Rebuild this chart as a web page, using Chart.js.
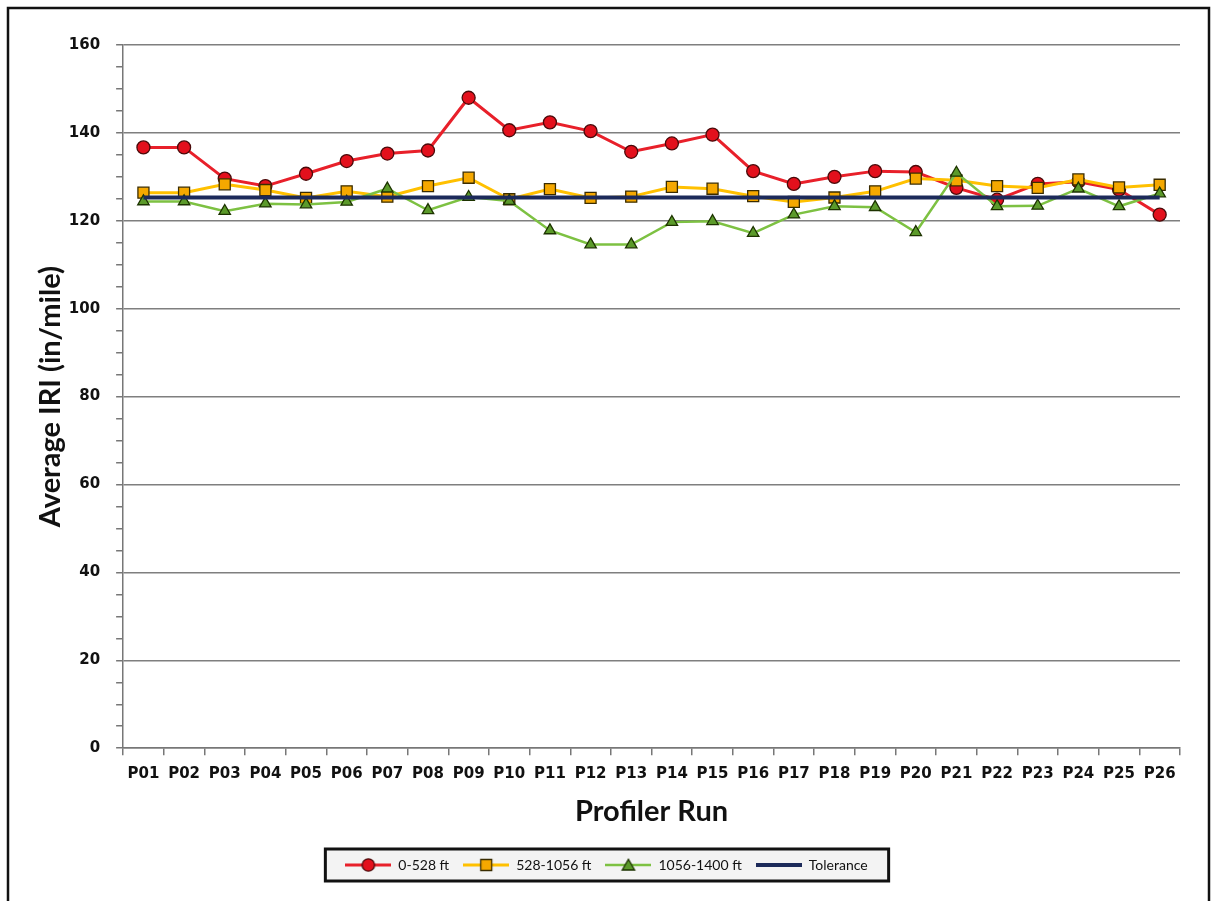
<!DOCTYPE html>
<html>
<head>
<meta charset="utf-8">
<title>Average IRI by Profiler Run</title>
<script src="https://cdn.jsdelivr.net/npm/chart.js@4.4.1/dist/chart.umd.min.js"></script>
<style>
  html, body { margin: 0; padding: 0; background: #fff; }
  canvas { display: block; }
</style>
</head>
<body>
<canvas id="chart" width="1211" height="901"></canvas>
<script>
// data
const runs = ['P01','P02','P03','P04','P05','P06','P07','P08','P09','P10','P11','P12','P13',
              'P14','P15','P16','P17','P18','P19','P20','P21','P22','P23','P24','P25','P26']
const seg0to528 = [136.7,136.7,129.6,127.9,130.7,133.6,135.3,136.0,148.0,140.6,142.4,140.4,135.7,
                   137.6,139.6,131.3,128.4,130.0,131.3,131.1,127.5,124.8,128.4,128.9,127.1,121.4]
const seg528to1056 = [126.4,126.4,128.3,127.0,125.2,126.7,125.5,127.9,129.8,124.9,127.2,125.2,125.5,
                      127.7,127.3,125.6,124.3,125.3,126.7,129.6,129.2,127.9,127.5,129.4,127.6,128.2]
const seg1056to1400 = [124.4,124.4,122.2,123.9,123.7,124.3,127.3,122.4,125.4,124.5,117.8,114.6,114.6,
                       119.7,119.9,117.2,121.4,123.3,123.1,117.4,130.9,123.3,123.4,127.3,123.3,126.2]
const tolerance = [125.3,125.3,125.3,125.3,125.3,125.3,125.3,125.3,125.3,125.3,125.3,125.3,125.3,
                   125.3,125.3,125.3,125.3,125.3,125.3,125.3,125.3,125.3,125.3,125.3,125.3,125.3]
const seriesNames = ['0-528 ft', '528-1056 ft', '1056-1400 ft', 'Tolerance']
const yTickLabels = [0, 20, 40, 60, 80, 100, 120, 140, 160]

const RED = '#e8202a', ORANGE = '#ffc000', GREEN = '#7dc142', NAVY = '#1c2a5a'

// little canvas used as legend symbol: line with marker in the middle
function legendIcon(lineColor, lineW, style, fill, stroke){
  let c = document.createElement('canvas')
  c.width = 46; c.height = 16
  let ctx = c.getContext('2d')
  ctx.strokeStyle = lineColor
  ctx.lineWidth = lineW
  ctx.beginPath(); ctx.moveTo(0, 8); ctx.lineTo(46, 8); ctx.stroke()
  if(style){
    ctx.fillStyle = fill; ctx.strokeStyle = stroke; ctx.lineWidth = 1.3
    ctx.beginPath()
    if(style=='circle') ctx.arc(23, 8, 6.2, 0, Math.PI*2)
    else if(style=='rect') ctx.rect(17.5, 2.5, 11, 11)
    else { ctx.moveTo(23, 2.2); ctx.lineTo(29.2, 13); ctx.lineTo(16.8, 13); ctx.closePath() }
    ctx.fill(); ctx.stroke()
  }
  return c
}

// legend box edges from the legend's own hit boxes
function legendRect(chart){
  let boxes = chart.legend.legendHitBoxes
  if(!boxes || !boxes.length) return null
  let l = Math.min(...boxes.map(b => b.left)) - 20
  let r = Math.max(...boxes.map(b => b.left + b.width)) + 21
  let t = boxes[0].top - 9
  let b = boxes[0].top + boxes[0].height + 9
  return {l, r, t, b}
}

const frame = {
  id: 'frame',
  beforeDraw(chart){
    let ctx = chart.ctx
    ctx.save()
    ctx.fillStyle = '#fff'
    ctx.fillRect(0, 0, chart.width, chart.height)
    ctx.strokeStyle = '#111'
    ctx.lineWidth = 2.5
    ctx.strokeRect(8, 8, 1201, 905)
    let lr = legendRect(chart)
    if(lr){
      ctx.fillStyle = '#f3f3f3'
      ctx.fillRect(lr.l, lr.t, lr.r - lr.l, lr.b - lr.t)
    }
    ctx.restore()
  },
  afterDraw(chart){
    let lr = legendRect(chart)
    if(!lr) return
    let ctx = chart.ctx
    ctx.save()
    ctx.strokeStyle = '#111'
    ctx.lineWidth = 3
    ctx.strokeRect(lr.l, lr.t, lr.r - lr.l, lr.b - lr.t)
    ctx.restore()
  }
}

const icons = [
  legendIcon(RED, 3, 'circle', '#e3101c', '#4a0a0a'),
  legendIcon(ORANGE, 3, 'rect', '#f5a800', '#3a2c00'),
  legendIcon(GREEN, 2.5, 'triangle', '#5b9a2a', '#1d3300'),
  legendIcon(NAVY, 4, null)
]

new Chart(document.getElementById('chart'), {
  type: 'line',
  data: {
    labels: runs,
    datasets: [
      { label: seriesNames[0], data: seg0to528, order: 3,
        borderColor: RED, borderWidth: 3, pointStyle: 'circle', pointRadius: 6.5,
        pointBackgroundColor: '#e3101c', pointBorderColor: '#4a0a0a', pointBorderWidth: 1.3 },
      { label: seriesNames[1], data: seg528to1056, order: 2,
        borderColor: ORANGE, borderWidth: 3, pointStyle: 'rect', pointRadius: 7.8,
        pointBackgroundColor: '#f5a800', pointBorderColor: '#3a2c00', pointBorderWidth: 1.3 },
      { label: seriesNames[2], data: seg1056to1400, order: 1,
        borderColor: GREEN, borderWidth: 2.5, pointStyle: 'triangle', pointRadius: 6.6,
        pointBackgroundColor: '#5b9a2a', pointBorderColor: '#1d3300', pointBorderWidth: 1.3 },
      { label: seriesNames[3], data: tolerance, order: 0,
        borderColor: NAVY, borderWidth: 4, pointRadius: 0 }
    ]
  },
  options: {
    responsive: false,
    animation: false,
    layout: { padding: { left: 33, right: 31, top: 45, bottom: 19 } },
    plugins: {
      tooltip: { enabled: false },
      legend: {
        position: 'bottom',
        labels: {
          usePointStyle: true,
          pointStyleWidth: 46,
          padding: 14,
          color: '#111',
          font: { family: 'Lato', size: 14 },
          generateLabels: chart => chart.data.datasets.map((ds, i) => ({
            text: ds.label, pointStyle: icons[i], datasetIndex: i,
            fillStyle: 'transparent', strokeStyle: 'transparent', lineWidth: 0, fontColor: '#111'
          }))
        }
      }
    },
    scales: {
      x: {
        offset: true,
        grid: { display: true, offset: true, drawOnChartArea: false, tickLength: 7, tickColor: '#777', lineWidth: 1.5 },
        border: { color: '#777', width: 1.5 },
        ticks: { autoSkip: false, maxRotation: 0, padding: 10, color: '#111',
                 font: { family: 'DejaVu Sans', size: 15, weight: 'bold' } },
        title: { display: true, text: 'Profiler Run', color: '#111',
                 padding: { top: 1, bottom: 15 },
                 font: { family: 'Lato', size: 29, weight: 'bold' } }
      },
      y: {
        min: 0, max: 160,
        ticks: {
          stepSize: 5, padding: 16, color: '#111',
          font: { family: 'DejaVu Sans', size: 15, weight: 'bold' },
          callback: v => yTickLabels.includes(v) ? v : ''
        },
        grid: {
          tickLength: 7, tickColor: '#777', lineWidth: 1.5,
          color: c => (c.tick && yTickLabels.includes(c.tick.value)) ? '#7f7f7f' : 'transparent'
        },
        border: { color: '#777', width: 1.5 },
        title: { display: true, text: 'Average IRI (in/mile)', color: '#111',
                 padding: { top: 0, bottom: -15 },
                 font: { family: 'Lato', size: 29, weight: 'bold' } }
      }
    }
  },
  plugins: [frame]
})
</script>
</body>
</html>
